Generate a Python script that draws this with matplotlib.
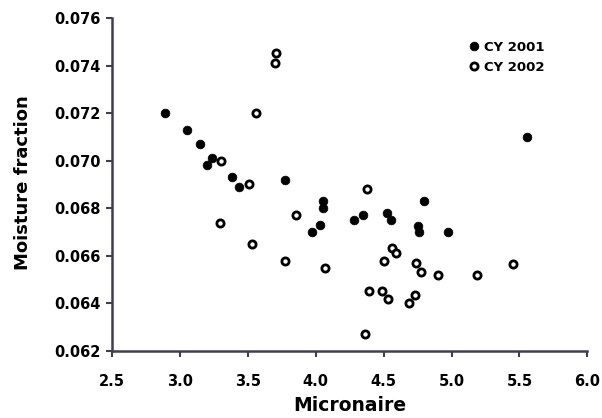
import matplotlib
matplotlib.use("Agg")
import matplotlib.pyplot as plt
from matplotlib.ticker import MultipleLocator, FormatStrFormatter

plt.rcParams['font.family'] = ['DejaVu Sans']
plt.rcParams['font.weight'] = 'bold'

mic_2001 = [2.89, 3.05, 3.15, 3.20, 3.235, 3.38, 3.436, 3.775, 3.97, 4.033, 4.05, 4.055,
            4.28, 4.345, 4.524, 4.55, 4.75, 4.76, 4.80, 4.976, 5.554]
moist_2001 = [0.0720, 0.0713, 0.0707, 0.0698, 0.0701, 0.0693, 0.0689, 0.0692, 0.0670, 0.0673, 0.0683, 0.0680,
              0.0675, 0.0677, 0.0678, 0.0675, 0.06726, 0.0670, 0.0683, 0.0670, 0.0710]

mic_2002 = [3.30, 3.51, 3.557, 3.706, 3.70, 3.294, 3.53, 3.854, 3.775, 4.067, 4.375, 4.559, 4.588,
            4.50, 4.74, 4.775, 4.90, 5.185, 5.45, 4.39, 4.485, 4.53, 4.73, 4.684, 4.36]
moist_2002 = [0.0700, 0.0690, 0.0720, 0.07454, 0.0741, 0.0674, 0.0665, 0.0677, 0.0658, 0.0655, 0.0688, 0.06634, 0.0661,
              0.0658, 0.0657, 0.0653, 0.0652, 0.0652, 0.06565, 0.06454, 0.06454, 0.0642, 0.06434, 0.0640, 0.0627]

labels = ["CY 2001", "CY 2002"]

fig = plt.figure(figsize=(6.02, 4.18), dpi=100)
ax = fig.add_axes([0.1865, 0.1603, 0.7891, 0.7967])

ax.plot(mic_2001, moist_2001, linestyle='none', marker='o', markersize=6.3,
        markerfacecolor='black', markeredgecolor='black', markeredgewidth=0.5, label=labels[0])
ax.plot(mic_2002, moist_2002, linestyle='none', marker='o', markersize=5.2,
        markerfacecolor='white', markeredgecolor='black', markeredgewidth=2.0, label=labels[1])

ax.set_xlim(2.5, 6.0)
ax.set_ylim(0.062, 0.076)
ax.xaxis.set_major_locator(MultipleLocator(0.5))
ax.yaxis.set_major_locator(MultipleLocator(0.002))
ax.xaxis.set_major_formatter(FormatStrFormatter('%.1f'))
ax.yaxis.set_major_formatter(FormatStrFormatter('%.3f'))

axcol = '#3f3f4f'
for s in ['top', 'right']:
    ax.spines[s].set_visible(False)
for s in ['left', 'bottom']:
    ax.spines[s].set_color(axcol)
    ax.spines[s].set_linewidth(1.8)
ax.tick_params(direction='out', length=4.5, width=1.5, color=axcol, labelsize=10.5)
ax.tick_params(axis='y', pad=4)
ax.tick_params(axis='x', pad=12)
for lab in ax.get_xticklabels() + ax.get_yticklabels():
    lab.set_fontweight('bold')

ax.set_xlabel("Micronaire", fontsize=13.5, fontweight='bold')
ax.set_ylabel("Moisture fraction", fontsize=13, fontweight='bold')
ax.xaxis.label.set_va('center')
ax.xaxis.set_label_coords(0.5, (351 - 406) / 333)
ax.yaxis.label.set_va('center')
ax.yaxis.label.set_ha('center')
ax.yaxis.set_label_coords((23 - 112.3) / 475, 0.505)

leg = ax.legend(loc='upper left', bbox_to_anchor=(0.722, 0.968), frameon=False,
                handletextpad=0.25, handlelength=1.0, labelspacing=0.55,
                prop={'weight': 'bold', 'size': 9.5})

fig.savefig("out.png", dpi=100)
